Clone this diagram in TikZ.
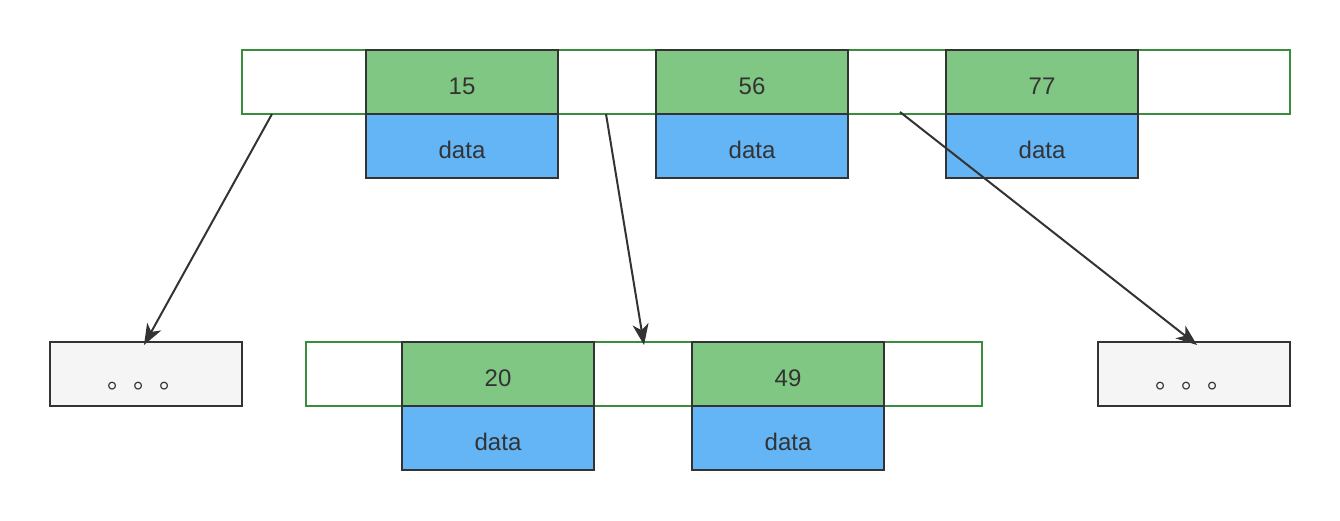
\documentclass[tikz,border=0pt]{standalone}
\usepackage{fontspec}
\setmainfont{Liberation Sans}
\newfontfamily\cjk{Noto Sans CJK SC}
\usetikzlibrary{arrows.meta}
\definecolor{keyg}{HTML}{81C784}
\definecolor{datab}{HTML}{64B5F6}
\definecolor{barg}{HTML}{388E3C}
\definecolor{ink}{HTML}{333333}
\definecolor{grayf}{HTML}{F5F5F5}
\tikzset{
  cell/.style={draw=ink, line width=2pt, inner sep=0pt, outer sep=0pt, minimum width=192pt, minimum height=64pt, text=ink, font=\fontsize{24}{28}\selectfont, text height=25pt, text depth=0pt},
  keycell/.style={cell, fill=keyg},
  datacell/.style={cell, fill=datab},
  bar/.style={draw=barg, line width=2pt, fill=white, inner sep=0pt, outer sep=0pt, minimum height=64pt},
  leaf/.style={draw=ink, line width=2pt, inner sep=0pt, outer sep=0pt, minimum width=192pt, minimum height=64pt, text=ink, fill=grayf, font=\cjk\fontsize{26}{30}\selectfont, text height=28pt, text depth=0pt},
  link/.style={draw=ink, line width=2pt, -{Stealth[length=21pt,width=16pt,inset=6pt]}}
}
\begin{document}
\begin{tikzpicture}[x=1pt,y=-1pt]
\useasboundingbox (0,0) rectangle (1340,520);
% top node
\node[bar, minimum width=1048pt] (top) at (766,82) {};
\node[keycell] (k15) at (462,82) {15};
\node[datacell] (d15) at (462,146) {data};
\node[keycell] (k56) at (752,82) {56};
\node[datacell] (d56) at (752,146) {data};
\node[keycell] (k77) at (1042,82) {77};
\node[datacell] (d77) at (1042,146) {data};
% bottom middle node
\node[bar, minimum width=676pt] (mid) at (644,374) {};
\node[keycell] (k20) at (498,374) {20};
\node[datacell] (d20) at (498,438) {data};
\node[keycell] (k49) at (788,374) {49};
\node[datacell] (d49) at (788,438) {data};
% leaves
\node[leaf] (left) at (146,374) {。。。};
\node[leaf] (right) at (1194,374) {。。。};
% connector endpoints
\coordinate (p1) at (272,114);
\coordinate (p2) at (606,114);
\coordinate (p3) at (900,112);
\coordinate (q1) at (144,345);
\coordinate (q2) at (644,345);
\coordinate (q3) at (1197,345);
\draw[link] (p1) -- (q1);
\draw[link] (p2) -- (q2);
\draw[link] (p3) -- (q3);
\end{tikzpicture}
\end{document}
